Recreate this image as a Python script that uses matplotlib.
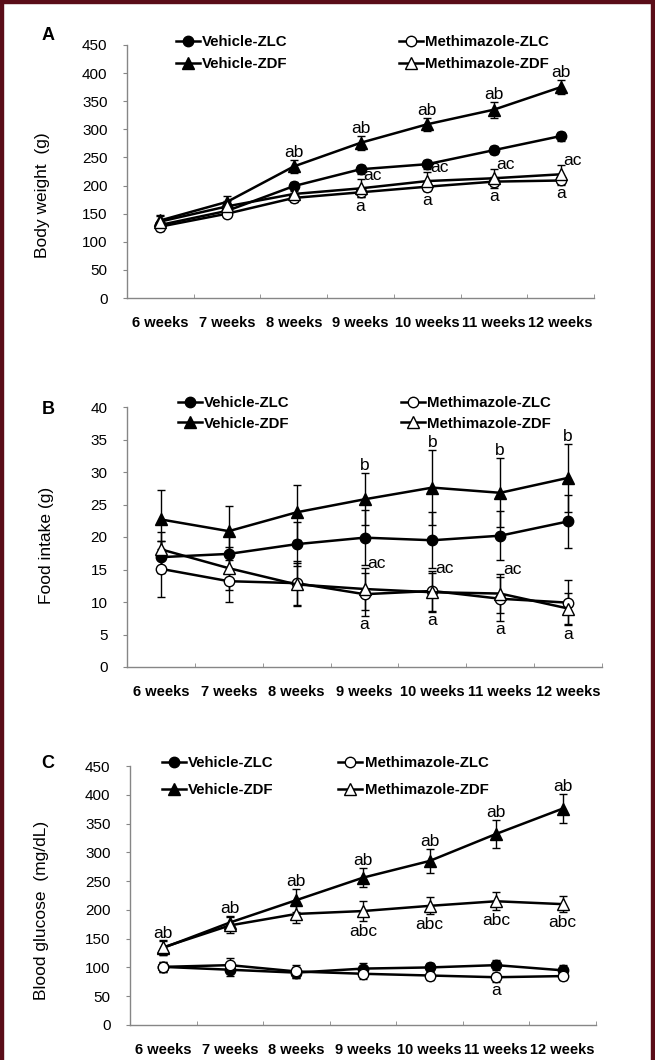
import matplotlib
matplotlib.use("Agg")
import matplotlib.pyplot as plt
from matplotlib.patches import Rectangle

plt.rcParams['font.family'] = ['Liberation Sans', 'DejaVu Sans']

weeks = ['6 weeks', '7 weeks', '8 weeks', '9 weeks', '10 weeks', '11 weeks', '12 weeks']
series_names = ['Vehicle-ZLC', 'Vehicle-ZDF', 'Methimazole-ZLC', 'Methimazole-ZDF']

# A: body weight (g)
bw_veh_zlc = [130, 155, 199, 229, 238, 263, 288]
bw_veh_zlc_err = [7, 6, 8, 8, 8, 7, 8]
bw_veh_zdf = [138, 171, 234, 276, 309, 335, 375]
bw_veh_zdf_err = [10, 10, 12, 12, 12, 14, 13]
bw_met_zlc = [127, 150, 178, 188, 198, 207, 209]
bw_met_zlc_err = [7, 6, 8, 8, 8, 8, 8]
bw_met_zdf = [136, 163, 185, 195, 208, 213, 220]
bw_met_zdf_err = [10, 10, 10, 16, 16, 17, 17]
bw_above = ['', '', 'ab', 'ab', 'ab', 'ab', 'ab']
bw_right = ['', '', '', 'ac', 'ac', 'ac', 'ac']
bw_below = ['', '', '', 'a', 'a', 'a', 'a']

# B: food intake (g)
fi_veh_zlc = [16.9, 17.4, 18.9, 19.9, 19.5, 20.2, 22.4]
fi_veh_zlc_err = [2.5, 3.0, 3.4, 4.2, 4.3, 3.8, 4.1]
fi_veh_zdf = [22.7, 20.9, 23.8, 25.8, 27.6, 26.8, 29.1]
fi_veh_zdf_err = [4.6, 3.9, 4.2, 4.0, 5.8, 5.3, 5.2]
fi_met_zlc = [15.1, 13.2, 12.9, 11.2, 11.7, 10.5, 9.9]
fi_met_zlc_err = [4.3, 3.2, 3.4, 3.3, 3.1, 3.4, 3.5]
fi_met_zdf = [18.1, 15.2, 12.7, 12.0, 11.5, 11.3, 9.0]
fi_met_zdf_err = [2.7, 3.3, 3.3, 3.3, 3.0, 3.0, 2.4]
fi_above = ['', '', '', 'b', 'b', 'b', 'b']
fi_right = ['', '', '', 'ac', 'ac', 'ac', '']
fi_below = ['', '', '', 'a', 'a', 'a', 'a']

# C: blood glucose (mg/dL)
bg_veh_zlc = [101, 96, 91, 98, 100, 104, 95]
bg_veh_zlc_err = [9, 10, 10, 9, 8, 9, 9]
bg_veh_zdf = [134, 178, 217, 256, 285, 332, 376]
bg_veh_zdf_err = [12, 12, 20, 17, 21, 24, 25]
bg_met_zlc = [101, 104, 93, 89, 86, 83, 85]
bg_met_zlc_err = [9, 12, 11, 9, 7, 8, 7]
bg_met_zdf = [135, 173, 193, 198, 207, 215, 210]
bg_met_zdf_err = [13, 14, 15, 17, 15, 16, 14]
bg_above = ['ab', 'ab', 'ab', 'ab', 'ab', 'ab', 'ab']
bg_right = ['', '', '', '', '', '', '']
bg_below_zdf = ['', '', '', 'abc', 'abc', 'abc', 'abc']
bg_below = ['', '', '', '', '', 'a', '']

W, H = 655, 1060
fig = plt.figure(figsize=(W / 100, H / 100), dpi=100)
fig.patch.set_facecolor('white')

# maroon frame (left, top, right)
frame = '#5a0d18'
fig.add_artist(Rectangle((0, 0), 3 / W, 1, transform=fig.transFigure, color=frame))
fig.add_artist(Rectangle((0, 1 - 3 / H), 1, 3 / H, transform=fig.transFigure, color=frame))
fig.add_artist(Rectangle((1 - 4 / W, 0), 4 / W, 1, transform=fig.transFigure, color=frame))


def px_axes(left, top, right, bottom):
    return fig.add_axes([left / W, 1 - bottom / H, (right - left) / W, (bottom - top) / H])


def draw_panel(ax, vals, errs, ymax, ystep, above, right, below, below_zdf=None):
    x = list(range(len(weeks)))
    styles = [
        dict(marker='o', mfc='black', ms=7.5),
        dict(marker='^', mfc='black', ms=8),
        dict(marker='o', mfc='white', ms=7.5),
        dict(marker='^', mfc='white', ms=8),
    ]
    handles = []
    for v, e, st in zip(vals, errs, styles):
        ax.errorbar(x, v, yerr=e, fmt='none', ecolor='black', elinewidth=1,
                    capsize=3, capthick=1, zorder=2)
        h, = ax.plot(x, v, color='black', lw=1.8, mec='black', mew=1, zorder=3, **st)
        handles.append(h)

    ann = dict(fontsize=12.5, textcoords='offset points', zorder=5)
    zdf, zdf_e = vals[1], errs[1]
    mz, mz_e = vals[3], errs[3]
    ml, ml_e = vals[2], errs[2]
    for i in x:
        if above[i]:
            ax.annotate(above[i], (i, zdf[i] + zdf_e[i]), xytext=(0, 0),
                        ha='center', va='bottom', **ann)
        if right[i]:
            ax.annotate(right[i], (i, mz[i] + mz_e[i]), xytext=(2, 3),
                        ha='left', va='center', **ann)
        if below[i]:
            ax.annotate(below[i], (i, min(ml[i] - ml_e[i], mz[i] - mz_e[i])),
                        xytext=(0, -1), ha='center', va='top', **ann)
        if below_zdf is not None and below_zdf[i]:
            ax.annotate(below_zdf[i], (i, mz[i] - mz_e[i]), xytext=(0, -2),
                        ha='center', va='top', **ann)

    ax.set_xlim(-0.5, len(weeks) - 0.5)
    ax.set_ylim(0, ymax)
    ax.set_yticks(range(0, ymax + 1, ystep))
    ax.set_xticks(x)
    ax.set_xticklabels(weeks, fontweight='bold', fontsize=10.5)
    ax.set_xticks([i + 0.5 for i in x], minor=True)
    ax.tick_params(axis='x', which='major', length=0, pad=13)
    ax.tick_params(axis='x', which='minor', direction='in', length=3, color='#868686')
    ax.tick_params(axis='y', direction='out', length=3, color='#868686', pad=11,
                   labelsize=11)
    for s in ['top', 'right']:
        ax.spines[s].set_visible(False)
    for s in ['left', 'bottom']:
        ax.spines[s].set_color('#868686')
        ax.spines[s].set_linewidth(1)
    return handles


def add_legend(ax, handles, x_px, y_px, colsp, labsp):
    ax.legend(handles, series_names, ncol=2, loc='upper left',
              bbox_to_anchor=(x_px / W, 1 - y_px / H), bbox_transform=fig.transFigure,
              frameon=False, borderpad=0, borderaxespad=0, handlelength=1.6,
              handletextpad=0.15, columnspacing=colsp, labelspacing=labsp,
              prop=dict(weight='bold', size=10.8))


# Panel A
axA = px_axes(127, 45, 594, 298)
hA = draw_panel(axA,
                [bw_veh_zlc, bw_veh_zdf, bw_met_zlc, bw_met_zdf],
                [bw_veh_zlc_err, bw_veh_zdf_err, bw_met_zlc_err, bw_met_zdf_err],
                450, 50, bw_above, bw_right, bw_below)
add_legend(axA, hA, 176, 35, 7.4, 0.55)

# Panel B
axB = px_axes(127, 407, 602, 667)
hB = draw_panel(axB,
                [fi_veh_zlc, fi_veh_zdf, fi_met_zlc, fi_met_zdf],
                [fi_veh_zlc_err, fi_veh_zdf_err, fi_met_zlc_err, fi_met_zdf_err],
                40, 5, fi_above, fi_right, fi_below)
add_legend(axB, hB, 178, 396, 7.4, 0.45)

# Panel C
axC = px_axes(130, 766, 596, 1025)
hC = draw_panel(axC,
                [bg_veh_zlc, bg_veh_zdf, bg_met_zlc, bg_met_zdf],
                [bg_veh_zlc_err, bg_veh_zdf_err, bg_met_zlc_err, bg_met_zdf_err],
                450, 50, bg_above, bg_right, bg_below, bg_below_zdf)
add_legend(axC, hC, 162, 756, 4.3, 0.85)

# panel letters and y titles
for letter, yp in [('A', 35), ('B', 409), ('C', 764)]:
    fig.text(48 / W, 1 - yp / H, letter, fontsize=13, fontweight='bold',
             ha='center', va='center')
for title, xp, yp in [('Body weight  (g)', 42, 195), ('Food intake (g)', 47, 545),
                      ('Blood glucose  (mg/dL)', 42, 910)]:
    fig.text(xp / W, 1 - yp / H, title, fontsize=12.5, rotation=90,
             ha='center', va='center')

fig.savefig('out.png', dpi=100, facecolor='white')
